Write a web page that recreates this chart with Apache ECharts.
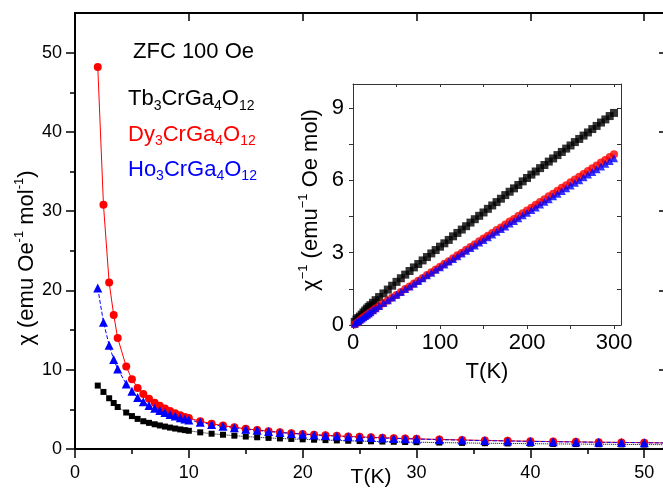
<!DOCTYPE html>
<html>
<head>
<meta charset="utf-8">
<script src="https://cdn.jsdelivr.net/npm/echarts@6/dist/echarts.min.js"></script>
<style>
html, body { margin: 0; padding: 0; background: #fff; }
#chart { width: 663px; height: 492px; }
</style>
</head>
<body>
<div id="chart"></div>
<script>
const FONT = '"Liberation Sans", Arial, Helvetica, sans-serif';

// ---- main panel: ZFC susceptibility chi(T), 100 Oe ----
const tempMain = [2, 2.5, 3, 3.4, 3.75, 4.5, 5, 5.5, 6, 6.5, 7, 7.45, 7.9, 8.35, 8.8, 9.25, 9.65, 10,
  11, 12, 13, 14, 15, 16, 17, 18, 19, 20, 21, 22, 23, 24, 25, 26, 27, 28, 29, 30,
  32, 34, 36, 38, 40, 42, 44, 46, 48, 50, 52];
const chiTb = [8.0, 7.2, 6.4, 5.8, 5.3, 4.6, 4.15, 3.8, 3.5, 3.3, 3.12, 2.97, 2.83, 2.7, 2.58, 2.47, 2.38, 2.3,
  2.1, 1.93, 1.8, 1.68, 1.57, 1.48, 1.4, 1.33, 1.27, 1.22, 1.17, 1.12, 1.08, 1.04, 1.0, 0.97, 0.94, 0.91, 0.88, 0.86,
  0.81, 0.77, 0.73, 0.7, 0.67, 0.64, 0.62, 0.6, 0.58, 0.56, 0.54];
const chiDy = [48.2, 30.8, 21.0, 16.9, 14.0, 10.4, 8.8, 7.7, 6.95, 6.35, 5.85, 5.45, 5.1, 4.8, 4.5, 4.25, 4.05, 3.9,
  3.5, 3.2, 2.95, 2.75, 2.55, 2.4, 2.25, 2.12, 2.0, 1.9, 1.81, 1.73, 1.66, 1.59, 1.53, 1.47, 1.42, 1.37, 1.32, 1.28,
  1.21, 1.14, 1.08, 1.03, 0.98, 0.94, 0.9, 0.86, 0.83, 0.8, 0.77];
const chiHo = [20.3, 16.0, 13.1, 11.3, 10.1, 8.2, 7.3, 6.5, 5.95, 5.5, 5.15, 4.85, 4.6, 4.35, 4.15, 3.95, 3.8, 3.66,
  3.38, 3.1, 2.87, 2.68, 2.5, 2.35, 2.21, 2.08, 1.97, 1.87, 1.78, 1.7, 1.63, 1.56, 1.5, 1.44, 1.39, 1.34, 1.3, 1.26,
  1.18, 1.12, 1.06, 1.01, 0.96, 0.92, 0.88, 0.85, 0.82, 0.79, 0.76];

const mainXLabels = [0, 10, 20, 30, 40, 50];
const mainXMinor = [5, 15, 25, 35, 45];
const mainYLabels = [0, 10, 20, 30, 40, 50];
const mainYMinor = [5, 15, 25, 35, 45];

// ---- inset: inverse susceptibility 1/chi(T) ----
const tempInset = [2, 4, 6, 8, 10, 12, 14, 16, 18, 20, 23, 26, 30, 35, 40, 45, 50, 55, 60, 65, 70, 75, 80, 85, 90, 95,
  100, 105, 110, 115, 120, 125, 130, 135, 140, 145, 150, 155, 160, 165, 170, 175, 180, 185, 190, 195,
  200, 205, 210, 215, 220, 225, 230, 235, 240, 245, 250, 255, 260, 265, 270, 275, 280, 285, 290, 295, 300];
const invTb = [0.13, 0.23, 0.29, 0.35, 0.43, 0.52, 0.6, 0.68, 0.75, 0.82, 0.92, 1.03, 1.16, 1.31, 1.47, 1.63, 1.79, 1.94, 2.09, 2.24, 2.39, 2.53, 2.68, 2.82, 2.97, 3.11,
  3.25, 3.39, 3.53, 3.68, 3.82, 3.96, 4.1, 4.25, 4.39, 4.53, 4.67, 4.82, 4.96, 5.1, 5.24, 5.39, 5.53, 5.67, 5.81, 5.96,
  6.1, 6.24, 6.37, 6.51, 6.64, 6.78, 6.91, 7.05, 7.18, 7.32, 7.45, 7.59, 7.72, 7.86, 7.99, 8.13, 8.26, 8.4, 8.53, 8.67, 8.8];
const invDy = [0.02, 0.07, 0.14, 0.2, 0.26, 0.31, 0.36, 0.42, 0.47, 0.53, 0.6, 0.68, 0.78, 0.9, 1.02, 1.14, 1.25, 1.37, 1.49, 1.6, 1.72, 1.84, 1.95, 2.07, 2.19, 2.3,
  2.42, 2.54, 2.65, 2.77, 2.89, 3.0, 3.12, 3.24, 3.35, 3.47, 3.59, 3.7, 3.82, 3.94, 4.05, 4.17, 4.29, 4.4, 4.52, 4.64,
  4.75, 4.87, 4.99, 5.1, 5.22, 5.34, 5.45, 5.57, 5.69, 5.8, 5.92, 6.04, 6.15, 6.27, 6.39, 6.5, 6.62, 6.74, 6.85, 6.97, 7.08];
const invHo = [0.05, 0.12, 0.17, 0.22, 0.27, 0.32, 0.37, 0.43, 0.48, 0.53, 0.61, 0.69, 0.79, 0.91, 1.03, 1.14, 1.26, 1.37, 1.49, 1.6, 1.71, 1.83, 1.94, 2.06, 2.17, 2.29,
  2.4, 2.51, 2.63, 2.74, 2.85, 2.97, 3.08, 3.19, 3.3, 3.42, 3.53, 3.64, 3.76, 3.87, 3.98, 4.09, 4.21, 4.32, 4.43, 4.55,
  4.66, 4.77, 4.88, 5.0, 5.11, 5.22, 5.34, 5.45, 5.56, 5.67, 5.79, 5.9, 6.01, 6.13, 6.24, 6.35, 6.46, 6.58, 6.69, 6.8, 6.92];

const insetXLabels = [0, 100, 200, 300];
const insetXTicks = [0, 50, 100, 150, 200, 250, 300];
const insetYLabels = [0, 3, 6, 9];
const insetYTicks = [0, 1.5, 3, 4.5, 6, 7.5, 9];

const compounds = ['Tb{s|3}CrGa{s|4}O{s|12}', 'Dy{s|3}CrGa{s|4}O{s|12}', 'Ho{s|3}CrGa{s|4}O{s|12}'];
const colors = ['#000000', '#ff0000', '#0000ff'];

const zip = (xs, ys) => xs.map((x, i) => [x, ys[i]]);

const mainLine = { lineStyle: { color: '#000', width: 2 } };
const insetLine = { lineStyle: { color: '#333', width: 1 } };

function axisBase(extra) {
  return Object.assign({
    type: 'value', splitLine: { show: false }, axisLabel: { show: false },
    axisLine: { show: false }, axisTick: { show: false }, nameMoveOverlap: false
  }, extra);
}

const xAxes = [
  // main bottom: major ticks + labels
  axisBase({ gridIndex: 0, position: 'bottom', min: 0, max: 52,
    axisLine: Object.assign({ show: true, onZero: false }, mainLine),
    axisTick: { show: true, inside: false, length: 9, customValues: mainXLabels, lineStyle: { color: '#000', width: 1.5 } },
    axisLabel: { show: true, customValues: mainXLabels, margin: 15, color: '#000', fontSize: 18, fontFamily: FONT },
    name: 'T(K)', nameLocation: 'middle', nameGap: 28,
    nameTextStyle: { color: '#000', fontSize: 21, fontFamily: FONT, verticalAlign: 'middle' } }),
  // main bottom: minor ticks
  axisBase({ gridIndex: 0, position: 'bottom', min: 0, max: 52,
    axisTick: { show: true, inside: false, length: 5, customValues: mainXMinor, lineStyle: { color: '#000', width: 1.5 } } }),
  // main top frame
  axisBase({ gridIndex: 0, position: 'top', min: 0, max: 52,
    axisLine: Object.assign({ show: true, onZero: false }, mainLine),
    axisTick: { show: true, inside: true, length: 8, customValues: mainXLabels, lineStyle: { color: '#000', width: 1.5 } } }),
  axisBase({ gridIndex: 0, position: 'top', min: 0, max: 52,
    axisTick: { show: true, inside: true, length: 4, customValues: mainXMinor, lineStyle: { color: '#000', width: 1.5 } } }),
  // inset bottom
  axisBase({ gridIndex: 1, position: 'bottom', min: 0, max: 308,
    axisLine: Object.assign({ show: true, onZero: false }, insetLine),
    axisTick: { show: true, inside: false, length: 4, customValues: insetXTicks, lineStyle: { color: '#333', width: 1 } },
    axisLabel: { show: true, customValues: insetXLabels, margin: 7, color: '#000', fontSize: 22, fontFamily: FONT },
    name: 'T(K)', nameLocation: 'middle', nameGap: 47,
    nameTextStyle: { color: '#000', fontSize: 22, fontFamily: FONT, verticalAlign: 'middle' } }),
  // inset top
  axisBase({ gridIndex: 1, position: 'top', min: 0, max: 308,
    axisLine: Object.assign({ show: true, onZero: false }, insetLine),
    axisTick: { show: true, inside: true, length: 3, customValues: insetXTicks, lineStyle: { color: '#333', width: 1 } } })
];

const yAxes = [
  // main left: major ticks + labels
  axisBase({ gridIndex: 0, position: 'left', min: 0, max: 55,
    axisLine: Object.assign({ show: true, onZero: false }, mainLine),
    axisTick: { show: true, inside: false, length: 9, customValues: mainYLabels, lineStyle: { color: '#000', width: 1.5 } },
    axisLabel: { show: true, customValues: mainYLabels, margin: 13, color: '#000', fontSize: 18, fontFamily: FONT } }),
  axisBase({ gridIndex: 0, position: 'left', min: 0, max: 55,
    axisTick: { show: true, inside: false, length: 5, customValues: mainYMinor, lineStyle: { color: '#000', width: 1.5 } } }),
  // main right frame
  axisBase({ gridIndex: 0, position: 'right', min: 0, max: 55,
    axisLine: Object.assign({ show: true, onZero: false }, mainLine),
    axisTick: { show: true, inside: true, length: 8, customValues: mainYLabels, lineStyle: { color: '#000', width: 1.5 } } }),
  axisBase({ gridIndex: 0, position: 'right', min: 0, max: 55,
    axisTick: { show: true, inside: true, length: 4, customValues: mainYMinor, lineStyle: { color: '#000', width: 1.5 } } }),
  // inset left
  axisBase({ gridIndex: 1, position: 'left', min: 0, max: 10,
    axisLine: Object.assign({ show: true, onZero: false }, insetLine),
    axisTick: { show: true, inside: false, length: 4, customValues: insetYTicks, lineStyle: { color: '#333', width: 1 } },
    axisLabel: { show: true, customValues: insetYLabels, margin: 9, color: '#000', fontSize: 22, fontFamily: FONT } }),
  // inset right
  axisBase({ gridIndex: 1, position: 'right', min: 0, max: 10,
    axisLine: Object.assign({ show: true, onZero: false }, insetLine),
    axisTick: { show: true, inside: true, length: 4, customValues: insetYTicks, lineStyle: { color: '#333', width: 1 } } })
];

const mainSeries = [
  { name: 'Tb', data: zip(tempMain, chiTb), symbol: 'rect', symbolSize: 6, color: colors[0], dash: 'dotted' },
  { name: 'Dy', data: zip(tempMain, chiDy), symbol: 'circle', symbolSize: 8, color: colors[1], dash: 'solid' },
  { name: 'Ho', data: zip(tempMain, chiHo), symbol: 'triangle', symbolSize: 9, color: colors[2], dash: 'dashed' }
].map(s => ({
  type: 'line', name: s.name, xAxisIndex: 0, yAxisIndex: 0, data: s.data,
  symbol: s.symbol, symbolSize: s.symbolSize, showAllSymbol: true,
  itemStyle: { color: s.color }, lineStyle: { color: s.color, width: 1, type: s.dash },
  clip: true
}));

const insetSeries = [
  { name: 'Tb inv', data: zip(tempInset, invTb), symbol: 'rect', symbolSize: 8, color: colors[0] },
  { name: 'Dy inv', data: zip(tempInset, invDy), symbol: 'circle', symbolSize: 8, color: colors[1] },
  { name: 'Ho inv', data: zip(tempInset, invHo), symbol: 'triangle', symbolSize: 8, color: colors[2] }
].map(s => ({
  type: 'scatter', name: s.name, xAxisIndex: 4, yAxisIndex: 4, data: s.data,
  symbol: s.symbol, symbolSize: s.symbolSize, itemStyle: { color: s.color }
}));

function richText(str, x, y, color, size, extra) {
  return Object.assign({
    type: 'text', x: x, y: y,
    style: {
      text: str, fill: color, fontSize: size, fontFamily: FONT, lineHeight: 28,
      align: 'left', verticalAlign: 'middle', textAlign: 'left', textVerticalAlign: 'middle',
      rich: {
        s: { fontSize: 14, lineHeight: 12, verticalAlign: 'bottom', fontFamily: FONT, fill: color },
        u: { fontSize: 13, lineHeight: 12, verticalAlign: 'top', fontFamily: FONT, fill: color }
      }
    }
  }, extra || {});
}

const graphics = [
  richText('ZFC 100 Oe', 133, 52, '#000', 22),
  richText(compounds[0], 128, 99, colors[0], 22),
  richText(compounds[1], 128, 134.5, colors[1], 22),
  richText(compounds[2], 128, 169.5, colors[2], 22),
  // axis titles
  richText('χ (emu Oe{u|-1} mol{u|-1})', 27, 258, '#000', 22, { rotation: Math.PI / 2 }),
  richText('χ{u|−1} (emu{u|−1} Oe mol)', 311, 200, '#000', 22, { rotation: Math.PI / 2 })
];
graphics[4].style.align = 'center'; graphics[4].style.textAlign = 'center';
graphics[5].style.align = 'center'; graphics[5].style.textAlign = 'center';

const chart = echarts.init(document.getElementById('chart'), null, { renderer: 'canvas' });
chart.setOption({
  animation: false,
  backgroundColor: '#ffffff',
  grid: [
    { left: 75, top: 13, right: -4, bottom: 43, containLabel: false, outerBoundsMode: 'none' },
    { left: 353, top: 84, right: 42, bottom: 167, containLabel: false, outerBoundsMode: 'none' }
  ],
  xAxis: xAxes,
  yAxis: yAxes,
  series: mainSeries.concat(insetSeries),
  graphic: { elements: graphics }
});
</script>
</body>
</html>
